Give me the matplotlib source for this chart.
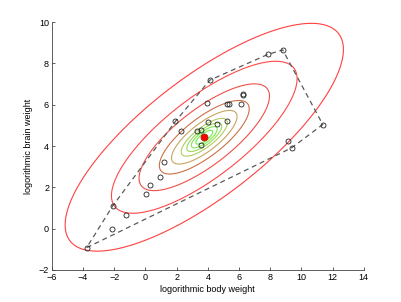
import numpy as np
import matplotlib
matplotlib.use("Agg")
import matplotlib.pyplot as plt

# log body weight / log brain weight (28 animals)
body = [0.30, 6.14, 3.59, 3.32, 0.04, 9.37, 7.84, 5.23, 6.26, 2.30, 1.19, 6.27, 5.33, 4.13,
        8.80, 9.15, 1.92, 3.56, -2.12, -3.77, 0.92, 4.02, 4.61, 3.95, -1.27, 11.37, -2.10, 5.26]
brain = [2.09, 6.05, 4.78, 4.74, 1.70, 3.91, 8.43, 6.04, 6.48, 4.74, 3.24, 6.52, 6.01, 7.19,
         8.65, 4.25, 5.19, 4.03, 0.00, -0.92, 2.49, 5.16, 5.06, 6.09, 0.64, 5.04, 1.10, 5.19]

# density shape: sd ratio y/x and correlation
sd_ratio = 0.618
rho = 0.77
# contour half-widths along x (inner -> outer) and their colours
half_widths = [0.54, 0.83, 1.12, 1.48, 2.1, 2.88, 4.18, 5.95, 8.92]
level_colors = ['#66f040', '#80e850', '#98dc58', '#b0cc60', '#c8a460',
                '#cc7048', '#ee5048', '#ff4848', '#ff4040']

plt.rcParams['font.family'] = ['Liberation Sans', 'DejaVu Sans']
plt.rcParams['font.size'] = 6.5

x = np.array(body)
y = np.array(brain)
mu = np.array([x.mean(), y.mean()])
cov = np.array([[1.0, rho*sd_ratio], [rho*sd_ratio, sd_ratio**2]])
icov = np.linalg.inv(cov)

gx, gy = np.meshgrid(np.linspace(-6, 14, 600), np.linspace(-2, 10, 450))
dx = gx - mu[0]
dy = gy - mu[1]
d2 = icov[0, 0]*dx**2 + 2*icov[0, 1]*dx*dy + icov[1, 1]*dy**2

# convex hull (monotone chain)
pts = sorted(zip(body, brain))
def cross(o, a, b):
    return (a[0]-o[0])*(b[1]-o[1]) - (a[1]-o[1])*(b[0]-o[0])
lower, upper = [], []
for p in pts:
    while len(lower) >= 2 and cross(lower[-2], lower[-1], p) <= 0:
        lower.pop()
    lower.append(p)
for p in reversed(pts):
    while len(upper) >= 2 and cross(upper[-2], upper[-1], p) <= 0:
        upper.pop()
    upper.append(p)
hull = np.array(lower[:-1] + upper[:-1] + [lower[0]])

fig = plt.figure(figsize=(4.02, 3.02), dpi=100)
ax = fig.add_axes([0.129, 0.106, 0.776, 0.821])

ax.contour(gx, gy, d2, levels=np.array(half_widths)**2, colors=level_colors, linewidths=0.8)
ax.plot(hull[:, 0], hull[:, 1], color='#5a5a5a', lw=0.9, dashes=(4, 3))
ax.plot(x, y, 'o', mfc='none', mec='#222222', ms=3.6, mew=0.6)
ax.plot(mu[0], mu[1], 'o', color='red', mec='#aa2200', ms=5, mew=0.6)

ax.set_xlim(-6, 14)
ax.set_ylim(-2, 10)
ax.set_xticks(np.arange(-6, 15, 2))
ax.set_yticks(np.arange(-2, 11, 2))
ax.spines['top'].set_visible(False)
ax.spines['right'].set_visible(False)
for s in ['left', 'bottom']:
    ax.spines[s].set_color('#444444')
    ax.spines[s].set_linewidth(0.6)
ax.tick_params(direction='in', length=2.5, width=0.6, color='#444444', pad=2)
ax.set_xlabel('logorithmic body weight', labelpad=2)
ax.set_ylabel('logorithmic brain weight', labelpad=4)

fig.savefig('out.png', dpi=100)
